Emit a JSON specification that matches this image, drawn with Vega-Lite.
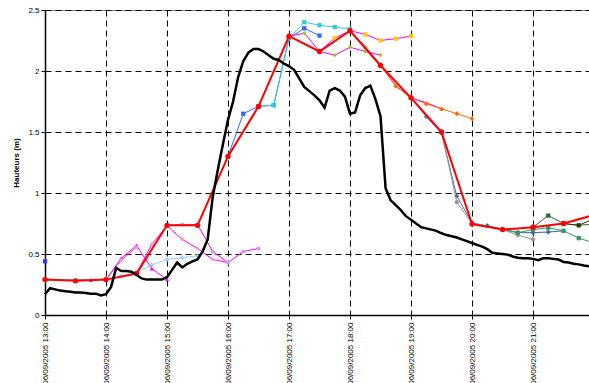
{
  "$schema": "https://vega.github.io/schema/vega-lite/v6.json",
  "width": 549,
  "height": 305,
  "autosize": {"type": "none"},
  "padding": {"left": 45, "top": 10, "right": 0, "bottom": 68},
  "config": {
    "font": "Liberation Sans",
    "view": {"stroke": "#888888", "strokeWidth": 1},
    "axis": {
      "domainColor": "#000000",
      "domainWidth": 1.5,
      "tickColor": "#000000",
      "tickSize": 4,
      "labelColor": "#000000",
      "labelFontSize": 8,
      "titleColor": "#000000",
      "gridColor": "#000000",
      "gridDash": [6, 4],
      "gridWidth": 1
    }
  },
  "data": {"values": [
      {"g": "obs", "t": "2005-09-06T13:00", "v": 0.17}, {"g": "obs", "t": "2005-09-06T13:05", "v": 0.22}, {"g": "obs", "t": "2005-09-06T13:10", "v": 0.21}, {"g": "obs", "t": "2005-09-06T13:15", "v": 0.2},
      {"g": "obs", "t": "2005-09-06T13:20", "v": 0.195}, {"g": "obs", "t": "2005-09-06T13:25", "v": 0.19}, {"g": "obs", "t": "2005-09-06T13:30", "v": 0.185}, {"g": "obs", "t": "2005-09-06T13:35", "v": 0.185},
      {"g": "obs", "t": "2005-09-06T13:40", "v": 0.18}, {"g": "obs", "t": "2005-09-06T13:45", "v": 0.175}, {"g": "obs", "t": "2005-09-06T13:50", "v": 0.175}, {"g": "obs", "t": "2005-09-06T13:55", "v": 0.16},
      {"g": "obs", "t": "2005-09-06T14:00", "v": 0.17}, {"g": "obs", "t": "2005-09-06T14:05", "v": 0.23}, {"g": "obs", "t": "2005-09-06T14:10", "v": 0.385}, {"g": "obs", "t": "2005-09-06T14:15", "v": 0.36},
      {"g": "obs", "t": "2005-09-06T14:20", "v": 0.36}, {"g": "obs", "t": "2005-09-06T14:25", "v": 0.355}, {"g": "obs", "t": "2005-09-06T14:30", "v": 0.33}, {"g": "obs", "t": "2005-09-06T14:35", "v": 0.3},
      {"g": "obs", "t": "2005-09-06T14:40", "v": 0.29}, {"g": "obs", "t": "2005-09-06T14:45", "v": 0.29}, {"g": "obs", "t": "2005-09-06T14:50", "v": 0.29}, {"g": "obs", "t": "2005-09-06T14:55", "v": 0.29},
      {"g": "obs", "t": "2005-09-06T15:00", "v": 0.31}, {"g": "obs", "t": "2005-09-06T15:05", "v": 0.37}, {"g": "obs", "t": "2005-09-06T15:10", "v": 0.43}, {"g": "obs", "t": "2005-09-06T15:15", "v": 0.39},
      {"g": "obs", "t": "2005-09-06T15:20", "v": 0.42}, {"g": "obs", "t": "2005-09-06T15:25", "v": 0.44}, {"g": "obs", "t": "2005-09-06T15:30", "v": 0.455}, {"g": "obs", "t": "2005-09-06T15:35", "v": 0.52},
      {"g": "obs", "t": "2005-09-06T15:40", "v": 0.62}, {"g": "obs", "t": "2005-09-06T15:45", "v": 0.97}, {"g": "obs", "t": "2005-09-06T15:50", "v": 1.19}, {"g": "obs", "t": "2005-09-06T15:55", "v": 1.4},
      {"g": "obs", "t": "2005-09-06T16:00", "v": 1.6}, {"g": "obs", "t": "2005-09-06T16:05", "v": 1.75}, {"g": "obs", "t": "2005-09-06T16:10", "v": 1.95}, {"g": "obs", "t": "2005-09-06T16:15", "v": 2.08},
      {"g": "obs", "t": "2005-09-06T16:20", "v": 2.15}, {"g": "obs", "t": "2005-09-06T16:25", "v": 2.18}, {"g": "obs", "t": "2005-09-06T16:30", "v": 2.18}, {"g": "obs", "t": "2005-09-06T16:35", "v": 2.16},
      {"g": "obs", "t": "2005-09-06T16:40", "v": 2.13}, {"g": "obs", "t": "2005-09-06T16:45", "v": 2.1}, {"g": "obs", "t": "2005-09-06T16:50", "v": 2.09}, {"g": "obs", "t": "2005-09-06T16:55", "v": 2.06},
      {"g": "obs", "t": "2005-09-06T17:00", "v": 2.04}, {"g": "obs", "t": "2005-09-06T17:05", "v": 2.01}, {"g": "obs", "t": "2005-09-06T17:10", "v": 1.94}, {"g": "obs", "t": "2005-09-06T17:15", "v": 1.87},
      {"g": "obs", "t": "2005-09-06T17:20", "v": 1.835}, {"g": "obs", "t": "2005-09-06T17:25", "v": 1.8}, {"g": "obs", "t": "2005-09-06T17:30", "v": 1.76}, {"g": "obs", "t": "2005-09-06T17:35", "v": 1.7},
      {"g": "obs", "t": "2005-09-06T17:40", "v": 1.84}, {"g": "obs", "t": "2005-09-06T17:45", "v": 1.86}, {"g": "obs", "t": "2005-09-06T17:50", "v": 1.84}, {"g": "obs", "t": "2005-09-06T17:55", "v": 1.79},
      {"g": "obs", "t": "2005-09-06T18:00", "v": 1.65}, {"g": "obs", "t": "2005-09-06T18:05", "v": 1.66}, {"g": "obs", "t": "2005-09-06T18:10", "v": 1.8}, {"g": "obs", "t": "2005-09-06T18:15", "v": 1.86},
      {"g": "obs", "t": "2005-09-06T18:20", "v": 1.88}, {"g": "obs", "t": "2005-09-06T18:25", "v": 1.77}, {"g": "obs", "t": "2005-09-06T18:30", "v": 1.63}, {"g": "obs", "t": "2005-09-06T18:35", "v": 1.04},
      {"g": "obs", "t": "2005-09-06T18:40", "v": 0.94}, {"g": "obs", "t": "2005-09-06T18:45", "v": 0.9}, {"g": "obs", "t": "2005-09-06T18:50", "v": 0.86}, {"g": "obs", "t": "2005-09-06T18:55", "v": 0.81},
      {"g": "obs", "t": "2005-09-06T19:00", "v": 0.78}, {"g": "obs", "t": "2005-09-06T19:05", "v": 0.75}, {"g": "obs", "t": "2005-09-06T19:10", "v": 0.72}, {"g": "obs", "t": "2005-09-06T19:15", "v": 0.71},
      {"g": "obs", "t": "2005-09-06T19:20", "v": 0.7}, {"g": "obs", "t": "2005-09-06T19:25", "v": 0.69}, {"g": "obs", "t": "2005-09-06T19:30", "v": 0.67}, {"g": "obs", "t": "2005-09-06T19:35", "v": 0.655},
      {"g": "obs", "t": "2005-09-06T19:40", "v": 0.645}, {"g": "obs", "t": "2005-09-06T19:45", "v": 0.635}, {"g": "obs", "t": "2005-09-06T19:50", "v": 0.62}, {"g": "obs", "t": "2005-09-06T19:55", "v": 0.605},
      {"g": "obs", "t": "2005-09-06T20:00", "v": 0.59}, {"g": "obs", "t": "2005-09-06T20:05", "v": 0.575}, {"g": "obs", "t": "2005-09-06T20:10", "v": 0.56}, {"g": "obs", "t": "2005-09-06T20:15", "v": 0.54},
      {"g": "obs", "t": "2005-09-06T20:20", "v": 0.51}, {"g": "obs", "t": "2005-09-06T20:25", "v": 0.505}, {"g": "obs", "t": "2005-09-06T20:30", "v": 0.5}, {"g": "obs", "t": "2005-09-06T20:35", "v": 0.495},
      {"g": "obs", "t": "2005-09-06T20:40", "v": 0.48}, {"g": "obs", "t": "2005-09-06T20:45", "v": 0.47}, {"g": "obs", "t": "2005-09-06T20:50", "v": 0.465}, {"g": "obs", "t": "2005-09-06T20:55", "v": 0.465},
      {"g": "obs", "t": "2005-09-06T21:00", "v": 0.46}, {"g": "obs", "t": "2005-09-06T21:05", "v": 0.45}, {"g": "obs", "t": "2005-09-06T21:10", "v": 0.465}, {"g": "obs", "t": "2005-09-06T21:15", "v": 0.465},
      {"g": "obs", "t": "2005-09-06T21:20", "v": 0.46}, {"g": "obs", "t": "2005-09-06T21:25", "v": 0.455}, {"g": "obs", "t": "2005-09-06T21:30", "v": 0.435}, {"g": "obs", "t": "2005-09-06T21:35", "v": 0.43},
      {"g": "obs", "t": "2005-09-06T21:40", "v": 0.42}, {"g": "obs", "t": "2005-09-06T21:45", "v": 0.415}, {"g": "obs", "t": "2005-09-06T21:50", "v": 0.405}, {"g": "obs", "t": "2005-09-06T21:55", "v": 0.4},
      {"g": "obs", "t": "2005-09-06T22:00", "v": 0.395},
      {"g": "red", "t": "2005-09-06T13:00", "v": 0.29}, {"g": "red", "t": "2005-09-06T13:30", "v": 0.28}, {"g": "red", "t": "2005-09-06T14:00", "v": 0.29}, {"g": "red", "t": "2005-09-06T14:30", "v": 0.34},
      {"g": "red", "t": "2005-09-06T15:00", "v": 0.735}, {"g": "red", "t": "2005-09-06T15:30", "v": 0.735}, {"g": "red", "t": "2005-09-06T16:00", "v": 1.3}, {"g": "red", "t": "2005-09-06T16:30", "v": 1.71},
      {"g": "red", "t": "2005-09-06T17:00", "v": 2.285}, {"g": "red", "t": "2005-09-06T17:30", "v": 2.16}, {"g": "red", "t": "2005-09-06T18:00", "v": 2.33}, {"g": "red", "t": "2005-09-06T18:30", "v": 2.045},
      {"g": "red", "t": "2005-09-06T19:00", "v": 1.78}, {"g": "red", "t": "2005-09-06T19:30", "v": 1.5}, {"g": "red", "t": "2005-09-06T20:00", "v": 0.745}, {"g": "red", "t": "2005-09-06T20:30", "v": 0.7},
      {"g": "red", "t": "2005-09-06T21:00", "v": 0.72}, {"g": "red", "t": "2005-09-06T21:30", "v": 0.75}, {"g": "red", "t": "2005-09-06T22:00", "v": 0.82},
      {"g": "fc", "s": "bd", "t": "2005-09-06T13:00", "v": 0.44},
      {"g": "fc", "s": "c1300", "t": "2005-09-06T13:00", "v": 0.283}, {"g": "fc", "s": "c1300", "t": "2005-09-06T13:15", "v": 0.29}, {"g": "fc", "s": "c1300", "t": "2005-09-06T13:30", "v": 0.29}, {"g": "fc", "s": "c1300", "t": "2005-09-06T13:45", "v": 0.29}, {"g": "fc", "s": "c1300", "t": "2005-09-06T14:00", "v": 0.295},
      {"g": "fc", "s": "m1330", "t": "2005-09-06T13:30", "v": 0.28}, {"g": "fc", "s": "m1330", "t": "2005-09-06T13:45", "v": 0.285}, {"g": "fc", "s": "m1330", "t": "2005-09-06T14:00", "v": 0.29}, {"g": "fc", "s": "m1330", "t": "2005-09-06T14:15", "v": 0.465}, {"g": "fc", "s": "m1330", "t": "2005-09-06T14:30", "v": 0.57}, {"g": "fc", "s": "m1330", "t": "2005-09-06T14:45", "v": 0.38}, {"g": "fc", "s": "m1330", "t": "2005-09-06T15:00", "v": 0.29},
      {"g": "fc", "s": "p1400", "t": "2005-09-06T14:00", "v": 0.29}, {"g": "fc", "s": "p1400", "t": "2005-09-06T14:15", "v": 0.45}, {"g": "fc", "s": "p1400", "t": "2005-09-06T14:30", "v": 0.555},
      {"g": "fc", "s": "lb1400", "t": "2005-09-06T14:00", "v": 0.29}, {"g": "fc", "s": "lb1400", "t": "2005-09-06T14:15", "v": 0.32}, {"g": "fc", "s": "lb1400", "t": "2005-09-06T14:30", "v": 0.345}, {"g": "fc", "s": "lb1400", "t": "2005-09-06T14:45", "v": 0.41}, {"g": "fc", "s": "lb1400", "t": "2005-09-06T15:00", "v": 0.455}, {"g": "fc", "s": "lb1400", "t": "2005-09-06T15:15", "v": 0.47}, {"g": "fc", "s": "lb1400", "t": "2005-09-06T15:30", "v": 0.485},
      {"g": "fc", "s": "pk1430", "t": "2005-09-06T14:30", "v": 0.34}, {"g": "fc", "s": "pk1430", "t": "2005-09-06T14:45", "v": 0.58}, {"g": "fc", "s": "pk1430", "t": "2005-09-06T15:00", "v": 0.73}, {"g": "fc", "s": "pk1430", "t": "2005-09-06T15:15", "v": 0.62}, {"g": "fc", "s": "pk1430", "t": "2005-09-06T15:30", "v": 0.545}, {"g": "fc", "s": "pk1430", "t": "2005-09-06T15:45", "v": 0.455}, {"g": "fc", "s": "pk1430", "t": "2005-09-06T16:00", "v": 0.43},
      {"g": "fc", "s": "pu1500", "t": "2005-09-06T15:00", "v": 0.735}, {"g": "fc", "s": "pu1500", "t": "2005-09-06T15:15", "v": 0.74}, {"g": "fc", "s": "pu1500", "t": "2005-09-06T15:30", "v": 0.74}, {"g": "fc", "s": "pu1500", "t": "2005-09-06T15:45", "v": 0.52}, {"g": "fc", "s": "pu1500", "t": "2005-09-06T16:00", "v": 0.43}, {"g": "fc", "s": "pu1500", "t": "2005-09-06T16:15", "v": 0.52}, {"g": "fc", "s": "pu1500", "t": "2005-09-06T16:30", "v": 0.545},
      {"g": "fc", "s": "bl1600", "t": "2005-09-06T16:00", "v": 1.3}, {"g": "fc", "s": "bl1600", "t": "2005-09-06T16:15", "v": 1.65}, {"g": "fc", "s": "bl1600", "t": "2005-09-06T16:30", "v": 1.71}, {"g": "fc", "s": "bl1600", "t": "2005-09-06T16:45", "v": 1.72}, {"g": "fc", "s": "bl1600", "t": "2005-09-06T17:00", "v": 2.27}, {"g": "fc", "s": "bl1600", "t": "2005-09-06T17:15", "v": 2.35}, {"g": "fc", "s": "bl1600", "t": "2005-09-06T17:30", "v": 2.29},
      {"g": "fc", "s": "cy1630", "t": "2005-09-06T16:30", "v": 1.71}, {"g": "fc", "s": "cy1630", "t": "2005-09-06T16:45", "v": 1.72}, {"g": "fc", "s": "cy1630", "t": "2005-09-06T17:00", "v": 2.27}, {"g": "fc", "s": "cy1630", "t": "2005-09-06T17:15", "v": 2.4}, {"g": "fc", "s": "cy1630", "t": "2005-09-06T17:30", "v": 2.375}, {"g": "fc", "s": "cy1630", "t": "2005-09-06T17:45", "v": 2.36}, {"g": "fc", "s": "cy1630", "t": "2005-09-06T18:00", "v": 2.345},
      {"g": "fc", "s": "gr1700", "t": "2005-09-06T17:00", "v": 2.285}, {"g": "fc", "s": "gr1700", "t": "2005-09-06T17:15", "v": 2.31}, {"g": "fc", "s": "gr1700", "t": "2005-09-06T17:30", "v": 2.16}, {"g": "fc", "s": "gr1700", "t": "2005-09-06T17:45", "v": 2.13}, {"g": "fc", "s": "gr1700", "t": "2005-09-06T18:00", "v": 2.195}, {"g": "fc", "s": "gr1700", "t": "2005-09-06T18:15", "v": 2.16}, {"g": "fc", "s": "gr1700", "t": "2005-09-06T18:30", "v": 2.13},
      {"g": "fc", "s": "ye1730", "t": "2005-09-06T17:30", "v": 2.16}, {"g": "fc", "s": "ye1730", "t": "2005-09-06T17:45", "v": 2.27}, {"g": "fc", "s": "ye1730", "t": "2005-09-06T18:00", "v": 2.33}, {"g": "fc", "s": "ye1730", "t": "2005-09-06T18:15", "v": 2.3}, {"g": "fc", "s": "ye1730", "t": "2005-09-06T18:30", "v": 2.25}, {"g": "fc", "s": "ye1730", "t": "2005-09-06T18:45", "v": 2.265}, {"g": "fc", "s": "ye1730", "t": "2005-09-06T19:00", "v": 2.285},
      {"g": "fc", "s": "or1800", "t": "2005-09-06T18:00", "v": 2.33}, {"g": "fc", "s": "or1800", "t": "2005-09-06T18:15", "v": 2.2}, {"g": "fc", "s": "or1800", "t": "2005-09-06T18:30", "v": 2.05}, {"g": "fc", "s": "or1800", "t": "2005-09-06T18:45", "v": 1.88}, {"g": "fc", "s": "or1800", "t": "2005-09-06T19:00", "v": 1.78}, {"g": "fc", "s": "or1800", "t": "2005-09-06T19:15", "v": 1.74}, {"g": "fc", "s": "or1800", "t": "2005-09-06T19:30", "v": 1.69},
      {"g": "fc", "s": "ox1830", "t": "2005-09-06T18:30", "v": 2.045}, {"g": "fc", "s": "ox1830", "t": "2005-09-06T18:45", "v": 1.875}, {"g": "fc", "s": "ox1830", "t": "2005-09-06T19:00", "v": 1.78}, {"g": "fc", "s": "ox1830", "t": "2005-09-06T19:15", "v": 1.73}, {"g": "fc", "s": "ox1830", "t": "2005-09-06T19:30", "v": 1.69}, {"g": "fc", "s": "ox1830", "t": "2005-09-06T19:45", "v": 1.65}, {"g": "fc", "s": "ox1830", "t": "2005-09-06T20:00", "v": 1.61},
      {"g": "fc", "s": "sl1900", "t": "2005-09-06T19:00", "v": 1.78}, {"g": "fc", "s": "sl1900", "t": "2005-09-06T19:15", "v": 1.625}, {"g": "fc", "s": "sl1900", "t": "2005-09-06T19:30", "v": 1.49}, {"g": "fc", "s": "sl1900", "t": "2005-09-06T19:45", "v": 0.975}, {"g": "fc", "s": "sl1900", "t": "2005-09-06T20:00", "v": 0.755}, {"g": "fc", "s": "sl1900", "t": "2005-09-06T20:15", "v": 0.73}, {"g": "fc", "s": "sl1900", "t": "2005-09-06T20:30", "v": 0.7},
      {"g": "fc", "s": "gy1930", "t": "2005-09-06T19:30", "v": 1.5}, {"g": "fc", "s": "gy1930", "t": "2005-09-06T19:45", "v": 0.925}, {"g": "fc", "s": "gy1930", "t": "2005-09-06T20:00", "v": 0.75}, {"g": "fc", "s": "gy1930", "t": "2005-09-06T20:15", "v": 0.73}, {"g": "fc", "s": "gy1930", "t": "2005-09-06T20:30", "v": 0.7}, {"g": "fc", "s": "gy1930", "t": "2005-09-06T20:45", "v": 0.655}, {"g": "fc", "s": "gy1930", "t": "2005-09-06T21:00", "v": 0.62},
      {"g": "fc", "s": "db2000", "t": "2005-09-06T20:00", "v": 0.745}, {"g": "fc", "s": "db2000", "t": "2005-09-06T20:15", "v": 0.73}, {"g": "fc", "s": "db2000", "t": "2005-09-06T20:30", "v": 0.705}, {"g": "fc", "s": "db2000", "t": "2005-09-06T20:45", "v": 0.675}, {"g": "fc", "s": "db2000", "t": "2005-09-06T21:00", "v": 0.675}, {"g": "fc", "s": "db2000", "t": "2005-09-06T21:15", "v": 0.68}, {"g": "fc", "s": "db2000", "t": "2005-09-06T21:30", "v": 0.69},
      {"g": "fc", "s": "te2030", "t": "2005-09-06T20:30", "v": 0.7}, {"g": "fc", "s": "te2030", "t": "2005-09-06T20:45", "v": 0.675}, {"g": "fc", "s": "te2030", "t": "2005-09-06T21:00", "v": 0.7}, {"g": "fc", "s": "te2030", "t": "2005-09-06T21:15", "v": 0.715}, {"g": "fc", "s": "te2030", "t": "2005-09-06T21:30", "v": 0.69}, {"g": "fc", "s": "te2030", "t": "2005-09-06T21:45", "v": 0.63}, {"g": "fc", "s": "te2030", "t": "2005-09-06T22:00", "v": 0.59},
      {"g": "fc", "s": "dg2100", "t": "2005-09-06T21:00", "v": 0.72}, {"g": "fc", "s": "dg2100", "t": "2005-09-06T21:15", "v": 0.815}, {"g": "fc", "s": "dg2100", "t": "2005-09-06T21:30", "v": 0.75}, {"g": "fc", "s": "dg2100", "t": "2005-09-06T21:45", "v": 0.735}, {"g": "fc", "s": "dg2100", "t": "2005-09-06T22:00", "v": 0.745},
      {"g": "fc", "s": "ol2130", "t": "2005-09-06T21:30", "v": 0.75}, {"g": "fc", "s": "ol2130", "t": "2005-09-06T21:45", "v": 0.735}, {"g": "fc", "s": "ol2130", "t": "2005-09-06T22:00", "v": 0.79}
  ]},
  "encoding": {
    "x": {
      "field": "t", "type": "temporal",
      "axis": {
        "title": null,
        "tickCount": 9,
        "format": "%d/%m/%Y %H:%M",
        "labelAngle": 270,
        "labelAlign": "right",
        "labelBaseline": "middle",
        "labelPadding": 3,
        "labelFlush": false,
        "grid": true
      }
    },
    "y": {
      "field": "v", "type": "quantitative",
      "scale": {"domain": [0, 2.5], "nice": false},
      "axis": {
        "title": "Hauteurs (m)",
        "titleFontSize": 8,
        "titleFontWeight": "bold",
        "titlePadding": 7,
        "tickCount": 5,
        "format": "~g",
        "labelPadding": 2,
        "grid": true
      }
    }
  },
  "layer": [
    {
      "transform": [{"filter": "datum.g == 'fc'"}],
      "mark": {"type": "line", "strokeWidth": 1},
      "encoding": {
        "color": {
          "field": "s", "type": "nominal", "legend": null,
          "scale": {
            "domain": ["bd", "c1300", "m1330", "p1400", "lb1400", "pk1430", "pu1500", "bl1600", "cy1630", "gr1700", "ye1730", "or1800", "ox1830", "sl1900", "gy1930", "db2000", "te2030", "dg2100", "ol2130"],
            "range": ["#3333FF", "#33CCCC", "#FF00FF", "#FF33CC", "#99CCFF", "#FF00FF", "#FF00FF", "#3366FF", "#33CCCC", "#FF00FF", "#FF00FF", "#FF00FF", "#FF6600", "#666699", "#969696", "#336699", "#339966", "#336633", "#333300"]
          }
        }
      }
    },
    {
      "transform": [{"filter": "datum.g == 'fc'"}],
      "mark": {"type": "point", "filled": true, "size": 18, "opacity": 1},
      "encoding": {
        "fill": {
          "field": "s", "type": "nominal", "legend": null,
          "scale": {
            "domain": ["bd", "c1300", "m1330", "p1400", "lb1400", "pk1430", "pu1500", "bl1600", "cy1630", "gr1700", "ye1730", "or1800", "ox1830", "sl1900", "gy1930", "db2000", "te2030", "dg2100", "ol2130"],
            "range": ["#3333FF", "#CCFFCC", "#FF00FF", "#FF99CC", "#99CCFF", "#FF99CC", "#CC99FF", "#3366FF", "#33CCCC", "#99CC00", "#FFCC00", "#FF9900", "#FF6600", "#666699", "#969696", "#336699", "#339966", "#336633", "#333300"]
          }
        },
        "shape": {
          "field": "s", "type": "nominal", "legend": null,
          "scale": {
            "domain": ["bd", "c1300", "m1330", "p1400", "lb1400", "pk1430", "pu1500", "bl1600", "cy1630", "gr1700", "ye1730", "or1800", "ox1830", "sl1900", "gy1930", "db2000", "te2030", "dg2100", "ol2130"],
            "range": ["square", "circle", "triangle-up", "diamond", "cross", "diamond", "circle", "square", "square", "diamond", "square", "triangle-up", "cross", "cross", "circle", "cross", "square", "square", "circle"]
          }
        }
      }
    },
    {
      "transform": [{"filter": "datum.g == 'red'"}],
      "mark": {"type": "line", "color": "#FF0000", "strokeWidth": 2}
    },
    {
      "transform": [{"filter": "datum.g == 'red'"}],
      "mark": {"type": "point", "filled": true, "color": "#FF0000", "size": 28, "opacity": 1, "shape": "circle"}
    },
    {
      "transform": [{"filter": "datum.g == 'obs'"}],
      "mark": {"type": "line", "color": "#000000", "strokeWidth": 2.5}
    }
  ]
}
